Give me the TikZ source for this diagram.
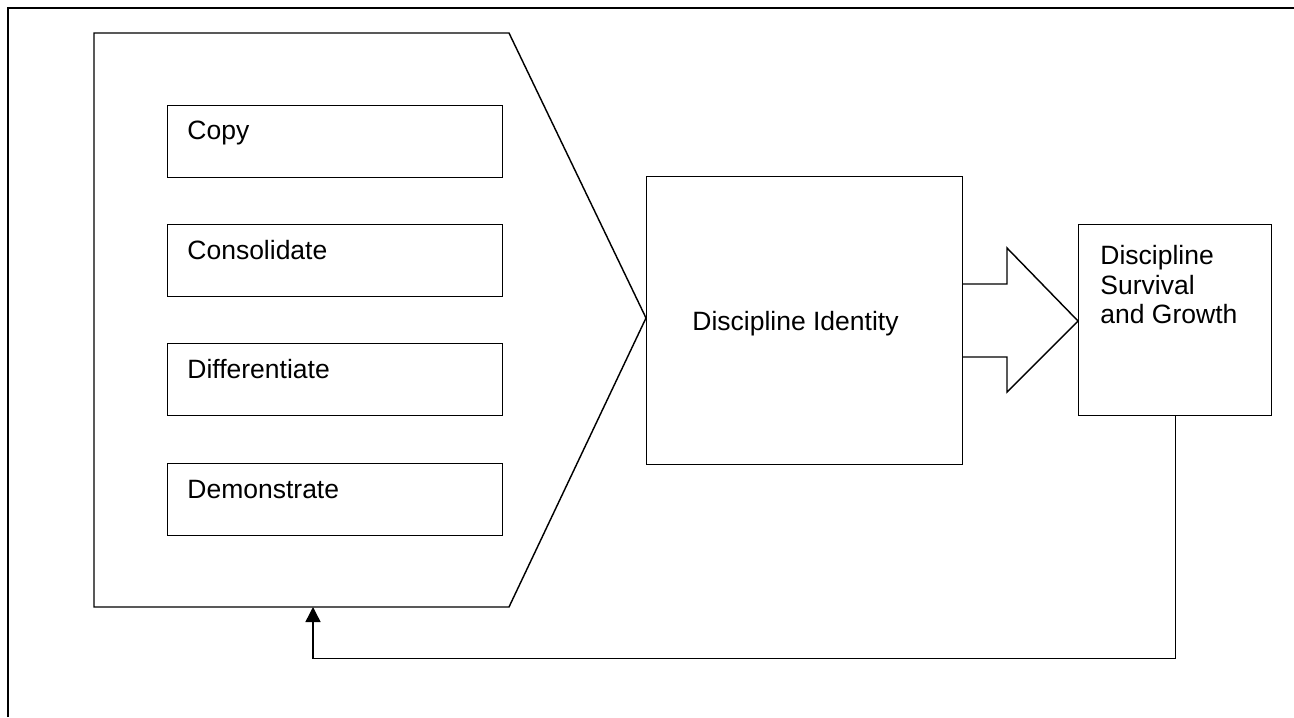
\documentclass[tikz,border=0pt]{standalone}
\usepackage{fontspec}
\setmainfont{Liberation Sans}
\usetikzlibrary{arrows.meta}

\tikzset{
  thin line/.style={line width=0.72pt, draw=black},
  stagebox/.style={thin line, rectangle, inner sep=0pt, anchor=north west,
    minimum width=167.5pt, minimum height=36pt},
  lbl/.style={inner sep=0pt, anchor=base west, font=\fontsize{13.25}{14.7}\selectfont},
}

\begin{document}
\begin{tikzpicture}[x=0.5pt,y=-0.5pt]

\useasboundingbox (0,0) rectangle (1294,717);

% outer frame (only top and left show)
\draw[line width=1pt] (8,717) -- (8,8) -- (1294,8);

% big chevron round the four stages
\draw[thin line] (94,33) -- (509,33) -- (646,318) -- (509,607) -- (94,607) -- cycle;
\coordinate (fb) at (313,607);

% the four stages
\foreach \y/\txt/\nm in {105/Copy/copy, 224/Consolidate/cons,
                         343/Differentiate/diff, 463/Demonstrate/demo}
{
  \node[stagebox] (\nm) at (167,\y) {};
  \node[lbl] (\nm-t) at (187,\y+35) {\txt};
}

% identity box
\node[stagebox, minimum width=158pt, minimum height=144pt] (ident) at (646,176) {};
\node[lbl] (ident-t) at (692,330) {Discipline Identity};

% survival box
\node[stagebox, minimum width=96.5pt, minimum height=95.5pt] (grow) at (1078,224) {};
\node[lbl, align=left, anchor=north west] (grow-t) at (1100,245)
  {Discipline\\Survival\\and Growth};

% block arrow from identity to survival
\draw[thin line] (962,284) -- (1007,284) -- (1007,248) -- (1078,321)
   -- (1007,392) -- (1007,357) -- (962,357);

% feedback
\draw[thin line, -{Triangle[width=7.5pt,length=7.5pt]}]
  (grow.south) -- ++(0,242) -| (fb);

\end{tikzpicture}
\end{document}
